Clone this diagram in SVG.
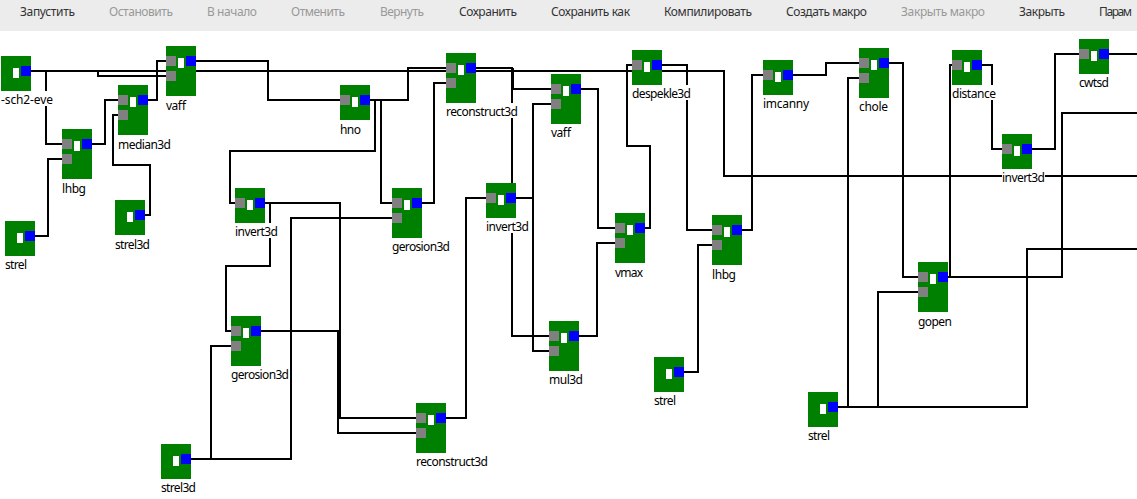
<svg xmlns="http://www.w3.org/2000/svg" width="1137" height="499" viewBox="0 0 1137 499">
<style>
text{font-family:"Noto Sans","Open Sans","DejaVu Sans",sans-serif;font-size:12px}
.tb{fill:#333}
.off{fill:#999}
.lb{fill:#000}
.bg{fill:#fff}
.b{fill:#008000}
.i{fill:#808080}
.o{fill:#00f}
.w{fill:#fff}
#connectors path{fill:none;stroke:#000;stroke-width:2}
</style>
<rect width="1137" height="499" fill="#fff"/>
<g id="toolbar">
<rect width="1137" height="31" fill="#ececec"/>
<text class="tb" x="20" y="16" textLength="55">Запустить</text>
<text class="off" x="109" y="16" textLength="64">Остановить</text>
<text class="off" x="207" y="16" textLength="50">В начало</text>
<text class="off" x="291" y="16" textLength="54">Отменить</text>
<text class="off" x="380" y="16" textLength="44">Вернуть</text>
<text class="tb" x="459" y="16" textLength="58">Сохранить</text>
<text class="tb" x="551" y="16" textLength="79">Сохранить как</text>
<text class="tb" x="664" y="16" textLength="88">Компилировать</text>
<text class="tb" x="786" y="16" textLength="81">Создать макро</text>
<text class="off" x="901" y="16" textLength="84">Закрыть макро</text>
<text class="tb" x="1019" y="16" textLength="46">Закрыть</text>
<text class="tb" x="1099" y="16" textLength="33">Парам</text>
</g>
<g id="connectors">
<path d="M31 71H724V176H1137"/>
<path d="M46 71V144H62"/>
<path d="M98 71V76H166"/>
<path d="M35 236H48V159H62"/>
<path d="M92 144H105V100H118"/>
<path d="M148 100H157V61H166"/>
<path d="M145 215H150V165H113V115H118"/>
<path d="M196 61H268V100H340"/>
<path d="M370 100H408V68H446"/>
<path d="M381 100V203H392"/>
<path d="M375 100V151H230V203H235"/>
<path d="M265 203H340V418H416"/>
<path d="M270 203V266H226V331H231"/>
<path d="M261 331H338V433H416"/>
<path d="M191 459H291V218H392"/>
<path d="M211 459V346H231"/>
<path d="M422 203H434V83H446"/>
<path d="M476 68H512V336H549"/>
<path d="M513 68V89H551"/>
<path d="M446 418H466V198H486"/>
<path d="M516 198H533V104H551"/>
<path d="M533 198V351H549"/>
<path d="M581 89H598V228H615"/>
<path d="M579 336H597V243H615"/>
<path d="M645 228H650V146H627V65H632"/>
<path d="M662 65H687V230H712"/>
<path d="M684 372H698V245H712"/>
<path d="M742 230H752V75H763"/>
<path d="M793 75H826V63H859"/>
<path d="M889 63H903V277H918"/>
<path d="M838 407H1027V249H1137"/>
<path d="M848 407V78H859"/>
<path d="M878 407V292H918"/>
<path d="M948 277H1062V113H1137"/>
<path d="M950 277V65H952"/>
<path d="M982 65H992V149H1002"/>
<path d="M1032 149H1055V54H1079"/>
<path d="M1109 54H1137"/>
</g>
<g id="n1"><rect class="bg" x="1" y="91" width="53" height="15"/><rect class="b" x="1" y="56" width="30" height="35"/><rect class="w" x="13" y="68" width="6" height="10"/><rect class="o" x="21" y="66" width="10" height="10"/><text class="lb" x="1" y="104" textLength="52">-sch2-eve</text></g>
<g id="n2"><rect class="bg" x="62" y="179" width="25" height="15"/><rect class="b" x="62" y="129" width="30" height="50"/><rect class="i" x="62" y="139" width="10" height="10"/><rect class="i" x="62" y="154" width="10" height="10"/><rect class="w" x="74" y="141" width="6" height="10"/><rect class="o" x="82" y="139" width="10" height="10"/><text class="lb" x="62" y="193" textLength="24">lhbg</text></g>
<g id="n3"><rect class="bg" x="118" y="135" width="53" height="15"/><rect class="b" x="118" y="85" width="30" height="50"/><rect class="i" x="118" y="95" width="10" height="10"/><rect class="i" x="118" y="110" width="10" height="10"/><rect class="w" x="130" y="97" width="6" height="10"/><rect class="o" x="138" y="95" width="10" height="10"/><text class="lb" x="118" y="149" textLength="53">median3d</text></g>
<g id="n4"><rect class="bg" x="166" y="96" width="21" height="15"/><rect class="b" x="166" y="46" width="30" height="50"/><rect class="i" x="166" y="56" width="10" height="10"/><rect class="i" x="166" y="71" width="10" height="10"/><rect class="w" x="178" y="58" width="6" height="10"/><rect class="o" x="186" y="56" width="10" height="10"/><text class="lb" x="166" y="110" textLength="20">vaff</text></g>
<g id="n5"><rect class="bg" x="340" y="120" width="22" height="15"/><rect class="b" x="340" y="85" width="30" height="35"/><rect class="i" x="340" y="95" width="10" height="10"/><rect class="w" x="352" y="97" width="6" height="10"/><rect class="o" x="360" y="95" width="10" height="10"/><text class="lb" x="340" y="134" textLength="21">hno</text></g>
<g id="n6"><rect class="bg" x="5" y="256" width="24" height="15"/><rect class="b" x="5" y="221" width="30" height="35"/><rect class="w" x="17" y="233" width="6" height="10"/><rect class="o" x="25" y="231" width="10" height="10"/><text class="lb" x="5" y="269" textLength="22">strel</text></g>
<g id="n7"><rect class="bg" x="115" y="235" width="36" height="15"/><rect class="b" x="115" y="200" width="30" height="35"/><rect class="w" x="127" y="212" width="6" height="10"/><rect class="o" x="135" y="210" width="10" height="10"/><text class="lb" x="115" y="249" textLength="35">strel3d</text></g>
<g id="n8"><rect class="bg" x="235" y="223" width="43" height="15"/><rect class="b" x="235" y="188" width="30" height="35"/><rect class="i" x="235" y="198" width="10" height="10"/><rect class="w" x="247" y="200" width="6" height="10"/><rect class="o" x="255" y="198" width="10" height="10"/><text class="lb" x="235" y="236" textLength="43">invert3d</text></g>
<g id="n9"><rect class="bg" x="446" y="103" width="73" height="15"/><rect class="b" x="446" y="53" width="30" height="50"/><rect class="i" x="446" y="63" width="10" height="10"/><rect class="i" x="446" y="78" width="10" height="10"/><rect class="w" x="458" y="65" width="6" height="10"/><rect class="o" x="466" y="63" width="10" height="10"/><text class="lb" x="446" y="116" textLength="72">reconstruct3d</text></g>
<g id="n10"><rect class="bg" x="551" y="124" width="21" height="15"/><rect class="b" x="551" y="74" width="30" height="50"/><rect class="i" x="551" y="84" width="10" height="10"/><rect class="i" x="551" y="99" width="10" height="10"/><rect class="w" x="563" y="86" width="6" height="10"/><rect class="o" x="571" y="84" width="10" height="10"/><text class="lb" x="551" y="137" textLength="20">vaff</text></g>
<g id="n11"><rect class="bg" x="632" y="85" width="60" height="15"/><rect class="b" x="632" y="50" width="30" height="35"/><rect class="i" x="632" y="60" width="10" height="10"/><rect class="w" x="644" y="62" width="6" height="10"/><rect class="o" x="652" y="60" width="10" height="10"/><text class="lb" x="632" y="98" textLength="59">despekle3d</text></g>
<g id="n12"><rect class="bg" x="392" y="238" width="59" height="15"/><rect class="b" x="392" y="188" width="30" height="50"/><rect class="i" x="392" y="198" width="10" height="10"/><rect class="i" x="392" y="213" width="10" height="10"/><rect class="w" x="404" y="200" width="6" height="10"/><rect class="o" x="412" y="198" width="10" height="10"/><text class="lb" x="392" y="251" textLength="58">gerosion3d</text></g>
<g id="n13"><rect class="bg" x="486" y="218" width="43" height="15"/><rect class="b" x="486" y="183" width="30" height="35"/><rect class="i" x="486" y="193" width="10" height="10"/><rect class="w" x="498" y="195" width="6" height="10"/><rect class="o" x="506" y="193" width="10" height="10"/><text class="lb" x="486" y="231" textLength="43">invert3d</text></g>
<g id="n14"><rect class="bg" x="615" y="263" width="29" height="15"/><rect class="b" x="615" y="213" width="30" height="50"/><rect class="i" x="615" y="223" width="10" height="10"/><rect class="i" x="615" y="238" width="10" height="10"/><rect class="w" x="627" y="225" width="6" height="10"/><rect class="o" x="635" y="223" width="10" height="10"/><text class="lb" x="615" y="277" textLength="28">vmax</text></g>
<g id="n15"><rect class="bg" x="712" y="265" width="25" height="15"/><rect class="b" x="712" y="215" width="30" height="50"/><rect class="i" x="712" y="225" width="10" height="10"/><rect class="i" x="712" y="240" width="10" height="10"/><rect class="w" x="724" y="227" width="6" height="10"/><rect class="o" x="732" y="225" width="10" height="10"/><text class="lb" x="712" y="279" textLength="24">lhbg</text></g>
<g id="n16"><rect class="bg" x="763" y="95" width="47" height="15"/><rect class="b" x="763" y="60" width="30" height="35"/><rect class="i" x="763" y="70" width="10" height="10"/><rect class="w" x="775" y="72" width="6" height="10"/><rect class="o" x="783" y="70" width="10" height="10"/><text class="lb" x="763" y="108" textLength="46">imcanny</text></g>
<g id="n17"><rect class="bg" x="859" y="98" width="30" height="15"/><rect class="b" x="859" y="48" width="30" height="50"/><rect class="i" x="859" y="58" width="10" height="10"/><rect class="i" x="859" y="73" width="10" height="10"/><rect class="w" x="871" y="60" width="6" height="10"/><rect class="o" x="879" y="58" width="10" height="10"/><text class="lb" x="859" y="111" textLength="29">chole</text></g>
<g id="n18"><rect class="bg" x="952" y="85" width="44" height="15"/><rect class="b" x="952" y="50" width="30" height="35"/><rect class="i" x="952" y="60" width="10" height="10"/><rect class="w" x="964" y="62" width="6" height="10"/><rect class="o" x="972" y="60" width="10" height="10"/><text class="lb" x="952" y="98" textLength="44">distance</text></g>
<g id="n19"><rect class="bg" x="1079" y="74" width="31" height="15"/><rect class="b" x="1079" y="39" width="30" height="35"/><rect class="i" x="1079" y="49" width="10" height="10"/><rect class="w" x="1091" y="51" width="6" height="10"/><rect class="o" x="1099" y="49" width="10" height="10"/><text class="lb" x="1079" y="87" textLength="30">cwtsd</text></g>
<g id="n20"><rect class="bg" x="1002" y="169" width="43" height="15"/><rect class="b" x="1002" y="134" width="30" height="35"/><rect class="i" x="1002" y="144" width="10" height="10"/><rect class="w" x="1014" y="146" width="6" height="10"/><rect class="o" x="1022" y="144" width="10" height="10"/><text class="lb" x="1002" y="182" textLength="43">invert3d</text></g>
<g id="n21"><rect class="bg" x="231" y="366" width="59" height="15"/><rect class="b" x="231" y="316" width="30" height="50"/><rect class="i" x="231" y="326" width="10" height="10"/><rect class="i" x="231" y="341" width="10" height="10"/><rect class="w" x="243" y="328" width="6" height="10"/><rect class="o" x="251" y="326" width="10" height="10"/><text class="lb" x="231" y="379" textLength="58">gerosion3d</text></g>
<g id="n22"><rect class="bg" x="161" y="479" width="36" height="15"/><rect class="b" x="161" y="444" width="30" height="35"/><rect class="w" x="173" y="456" width="6" height="10"/><rect class="o" x="181" y="454" width="10" height="10"/><text class="lb" x="161" y="492" textLength="35">strel3d</text></g>
<g id="n23"><rect class="bg" x="416" y="453" width="73" height="15"/><rect class="b" x="416" y="403" width="30" height="50"/><rect class="i" x="416" y="413" width="10" height="10"/><rect class="i" x="416" y="428" width="10" height="10"/><rect class="w" x="428" y="415" width="6" height="10"/><rect class="o" x="436" y="413" width="10" height="10"/><text class="lb" x="416" y="466" textLength="72">reconstruct3d</text></g>
<g id="n24"><rect class="bg" x="549" y="371" width="35" height="15"/><rect class="b" x="549" y="321" width="30" height="50"/><rect class="i" x="549" y="331" width="10" height="10"/><rect class="i" x="549" y="346" width="10" height="10"/><rect class="w" x="561" y="333" width="6" height="10"/><rect class="o" x="569" y="331" width="10" height="10"/><text class="lb" x="549" y="384" textLength="34">mul3d</text></g>
<g id="n25"><rect class="bg" x="654" y="392" width="24" height="15"/><rect class="b" x="654" y="357" width="30" height="35"/><rect class="w" x="666" y="369" width="6" height="10"/><rect class="o" x="674" y="367" width="10" height="10"/><text class="lb" x="654" y="405" textLength="22">strel</text></g>
<g id="n26"><rect class="bg" x="808" y="427" width="24" height="15"/><rect class="b" x="808" y="392" width="30" height="35"/><rect class="w" x="820" y="404" width="6" height="10"/><rect class="o" x="828" y="402" width="10" height="10"/><text class="lb" x="808" y="440" textLength="22">strel</text></g>
<g id="n27"><rect class="bg" x="918" y="312" width="35" height="15"/><rect class="b" x="918" y="262" width="30" height="50"/><rect class="i" x="918" y="272" width="10" height="10"/><rect class="i" x="918" y="287" width="10" height="10"/><rect class="w" x="930" y="274" width="6" height="10"/><rect class="o" x="938" y="272" width="10" height="10"/><text class="lb" x="918" y="326" textLength="34">gopen</text></g>
</svg>
